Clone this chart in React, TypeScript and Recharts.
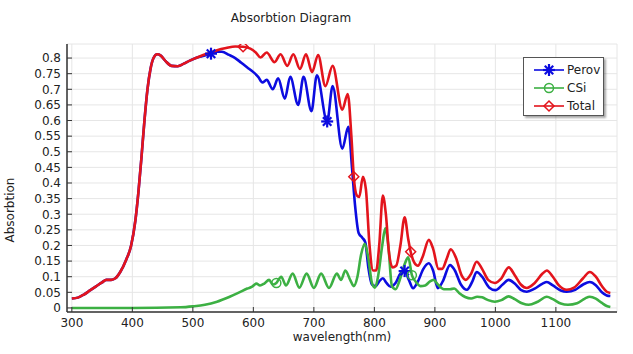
import { CartesianGrid, Line, LineChart, XAxis, YAxis } from "recharts";

// [wavelength nm, absorption]
const perovPoints: [number, number][] = [
  [300, 0.03], [310, 0.033], [320, 0.043], [330, 0.056], [340, 0.069], [350, 0.082],
  [357, 0.09], [365, 0.09], [372, 0.095], [380, 0.115], [390, 0.155], [398, 0.2],
  [405, 0.28], [410, 0.37], [415, 0.48], [420, 0.6], [425, 0.7], [430, 0.765],
  [435, 0.8], [441, 0.812], [447, 0.808], [455, 0.79], [465, 0.775], [475, 0.774],
  [485, 0.782], [495, 0.792], [505, 0.8], [515, 0.806], [530, 0.814], [540, 0.82],
  [548, 0.82], [560, 0.81], [570, 0.8], [580, 0.785], [590, 0.77], [600, 0.755],
  [608, 0.74], [615, 0.722], [622, 0.73], [632, 0.7], [641, 0.735], [652, 0.67],
  [661, 0.74], [674, 0.65], [683, 0.74], [696, 0.63], [705, 0.745], [722, 0.597],
  [731, 0.71], [747, 0.51], [757, 0.58], [763, 0.45], [768, 0.33], [774, 0.24],
  [780, 0.225], [785, 0.21], [790, 0.13], [796, 0.075], [802, 0.07], [808, 0.085],
  [814, 0.095], [820, 0.08], [827, 0.068], [835, 0.08], [843, 0.11], [850, 0.118],
  [857, 0.09], [864, 0.063], [872, 0.085], [881, 0.125], [890, 0.143], [897, 0.12],
  [905, 0.063], [913, 0.085], [925, 0.137], [933, 0.12], [943, 0.075], [953, 0.058],
  [962, 0.085], [969, 0.115], [978, 0.1], [990, 0.065], [1000, 0.057], [1012, 0.075],
  [1022, 0.09], [1032, 0.078], [1042, 0.058], [1052, 0.052], [1065, 0.062], [1078, 0.078],
  [1085, 0.083], [1095, 0.072], [1108, 0.056], [1118, 0.052], [1132, 0.058], [1145, 0.075],
  [1156, 0.083], [1166, 0.073], [1176, 0.05], [1184, 0.04], [1190, 0.038],
];

const csiPoints: [number, number][] = [
  [300, 0], [400, 0], [480, 0.002], [500, 0.005], [520, 0.01], [540, 0.02],
  [560, 0.035], [575, 0.048], [590, 0.062], [598, 0.068], [605, 0.078], [611, 0.072],
  [618, 0.078], [626, 0.09], [632, 0.075], [638, 0.08], [646, 0.1], [654, 0.072],
  [665, 0.11], [676, 0.065], [688, 0.11], [700, 0.064], [712, 0.11], [725, 0.064],
  [738, 0.11], [745, 0.09], [752, 0.12], [760, 0.09], [766, 0.07], [772, 0.1],
  [778, 0.17], [784, 0.205], [790, 0.16], [796, 0.08], [801, 0.065], [806, 0.1],
  [813, 0.2], [818, 0.255], [823, 0.2], [829, 0.07], [835, 0.06], [842, 0.09],
  [850, 0.14], [856, 0.162], [862, 0.105], [868, 0.085], [876, 0.07], [884, 0.072],
  [892, 0.085], [898, 0.09], [905, 0.075], [915, 0.06], [925, 0.06], [932, 0.062],
  [940, 0.048], [950, 0.035], [960, 0.03], [970, 0.036], [978, 0.034], [988, 0.025],
  [999, 0.02], [1010, 0.025], [1022, 0.037], [1032, 0.028], [1045, 0.014], [1055, 0.01],
  [1070, 0.02], [1085, 0.036], [1095, 0.028], [1108, 0.014], [1120, 0.01], [1135, 0.015],
  [1148, 0.03], [1156, 0.036], [1166, 0.03], [1176, 0.016], [1184, 0.006], [1190, 0.003],
];

const totalPoints: [number, number][] = [
  [300, 0.03], [310, 0.033], [320, 0.043], [330, 0.056], [340, 0.069], [350, 0.082],
  [357, 0.09], [365, 0.09], [372, 0.095], [380, 0.115], [390, 0.155], [398, 0.2],
  [405, 0.28], [410, 0.37], [415, 0.48], [420, 0.6], [425, 0.7], [430, 0.765],
  [435, 0.8], [441, 0.812], [447, 0.808], [455, 0.79], [465, 0.775], [475, 0.774],
  [485, 0.782], [495, 0.792], [505, 0.8], [515, 0.808], [525, 0.815], [540, 0.825],
  [555, 0.832], [570, 0.837], [583, 0.836], [595, 0.83], [604, 0.818], [612, 0.802],
  [622, 0.818], [635, 0.787], [645, 0.812], [656, 0.775], [666, 0.812], [677, 0.765],
  [687, 0.812], [697, 0.755], [707, 0.81], [719, 0.71], [731, 0.775], [747, 0.635],
  [756, 0.685], [762, 0.55], [766, 0.42], [771, 0.36], [775, 0.355], [781, 0.42],
  [786, 0.38], [792, 0.2], [798, 0.12], [803, 0.12], [808, 0.2], [814, 0.36],
  [819, 0.3], [824, 0.18], [830, 0.13], [836, 0.135], [843, 0.2], [850, 0.29],
  [856, 0.22], [860, 0.18], [866, 0.145], [872, 0.135], [880, 0.165], [890, 0.218],
  [897, 0.19], [906, 0.125], [912, 0.125], [920, 0.16], [926, 0.188], [935, 0.16],
  [944, 0.105], [951, 0.09], [960, 0.11], [969, 0.148], [978, 0.125], [988, 0.09],
  [999, 0.08], [1010, 0.095], [1022, 0.13], [1032, 0.105], [1042, 0.075], [1052, 0.064],
  [1065, 0.08], [1078, 0.11], [1085, 0.12], [1095, 0.1], [1105, 0.072], [1118, 0.058],
  [1130, 0.065], [1145, 0.095], [1156, 0.115], [1166, 0.1], [1176, 0.07], [1184, 0.052],
  [1190, 0.048],
];

// wavelengths where the marker symbols sit
const perovMarks = [530, 722, 850];
const csiMarks = [638, 862];
const totalMarks = [583, 766, 860];

const xTicks = [300, 400, 500, 600, 700, 800, 900, 1000, 1100];
const yTicks = [0, 0.05, 0.1, 0.15, 0.2, 0.25, 0.3, 0.35, 0.4, 0.45, 0.5, 0.55, 0.6, 0.65, 0.7, 0.75, 0.8];

const BLUE = "#0c0ce0";
const GREEN = "#3cb043";
const RED = "#e3141c";
const FONT = "'DejaVu Sans', sans-serif";
const TEXT = "#222";
const FRAME = "#333";
const TICK_LEN = 5;
const MARGIN = 6;

const toRows = (pts: [number, number][]) => pts.map(([nm, v]) => ({ nm, v }));

function Star({ cx, cy, color }: { cx: number; cy: number; color: string }) {
  const r = 6;
  const d = r * 0.707;
  return (
    <g stroke={color} strokeWidth={2.2}>
      <line x1={cx - r} y1={cy} x2={cx + r} y2={cy} />
      <line x1={cx} y1={cy - r} x2={cx} y2={cy + r} />
      <line x1={cx - d} y1={cy - d} x2={cx + d} y2={cy + d} />
      <line x1={cx - d} y1={cy + d} x2={cx + d} y2={cy - d} />
    </g>
  );
}

function Ring({ cx, cy, color }: { cx: number; cy: number; color: string }) {
  return <circle cx={cx} cy={cy} r={4.5} fill="none" stroke={color} strokeWidth={1.5} />;
}

function Diamond({ cx, cy, color }: { cx: number; cy: number; color: string }) {
  const s = 5;
  return (
    <path
      d={`M${cx},${cy - s}L${cx + s},${cy}L${cx},${cy + s}L${cx - s},${cy}Z`}
      fill="none"
      stroke={color}
      strokeWidth={1.5}
    />
  );
}

const markerDot =
  (marks: number[], Shape: typeof Star, color: string) =>
  (p: any) => {
    if (!marks.includes(p.payload.nm)) return <g key={p.key ?? p.index} />;
    return (
      <g key={p.key ?? p.index}>
        <Shape cx={p.cx} cy={p.cy} color={color} />
      </g>
    );
  };

function BottomTick(p: any) {
  const y0 = p.y - MARGIN;
  return (
    <g>
      <line x1={p.x} y1={y0} x2={p.x} y2={y0 - TICK_LEN} stroke={FRAME} />
      <text x={p.x} y={p.y} dy="0.71em" textAnchor="middle" fill={TEXT} fontSize={12} fontFamily={FONT}>
        {p.payload.value}
      </text>
    </g>
  );
}

function LeftTick(p: any) {
  const x0 = p.x + MARGIN;
  return (
    <g>
      <line x1={x0} y1={p.y} x2={x0 + TICK_LEN} y2={p.y} stroke={FRAME} />
      <text x={p.x} y={p.y} dy="0.36em" textAnchor="end" fill={TEXT} fontSize={12} fontFamily={FONT}>
        {p.payload.value}
      </text>
    </g>
  );
}

function TopTick(p: any) {
  const y0 = p.y + MARGIN;
  return <line x1={p.x} y1={y0} x2={p.x} y2={y0 + TICK_LEN} stroke={FRAME} />;
}

function RightTick(p: any) {
  const x0 = p.x - MARGIN;
  return <line x1={x0} y1={p.y} x2={x0 - TICK_LEN} y2={p.y} stroke={FRAME} />;
}

const legendItems = [
  { name: "Perov", color: BLUE, Shape: Star },
  { name: "CSi", color: GREEN, Shape: Ring },
  { name: "Total", color: RED, Shape: Diamond },
];

export default function App() {
  const xDomain = [292, 1201];
  const yDomain = [-0.013, 0.845];
  return (
    <div style={{ position: "absolute", left: 0, top: 0, width: 633, height: 354, background: "#fff", fontFamily: FONT }}>
      <LineChart width={633} height={354} margin={{ top: 44, right: 16, bottom: 0, left: 0 }}>
        <CartesianGrid stroke="#e6e6e6" />
        <XAxis
          dataKey="nm"
          type="number"
          domain={xDomain}
          ticks={xTicks}
          interval={0}
          allowDataOverflow
          height={42}
          tickSize={0}
          tickMargin={MARGIN}
          tick={BottomTick}
          axisLine={{ stroke: FRAME, strokeWidth: 1.5 }}
        />
        <XAxis
          xAxisId="top"
          orientation="top"
          type="number"
          domain={xDomain}
          ticks={xTicks}
          interval={0}
          allowDataOverflow
          height={0}
          tickSize={0}
          tickMargin={MARGIN}
          tick={TopTick}
          axisLine={{ stroke: FRAME, strokeWidth: 1.5 }}
        />
        <YAxis
          type="number"
          domain={yDomain}
          ticks={yTicks}
          interval={0}
          allowDataOverflow
          width={67}
          tickSize={0}
          tickMargin={MARGIN}
          tick={LeftTick}
          axisLine={{ stroke: FRAME, strokeWidth: 1.5 }}
        />
        <YAxis
          yAxisId="right"
          orientation="right"
          type="number"
          domain={yDomain}
          ticks={yTicks}
          interval={0}
          allowDataOverflow
          width={0}
          tickSize={0}
          tickMargin={MARGIN}
          tick={RightTick}
          axisLine={{ stroke: FRAME, strokeWidth: 1.5 }}
        />
        <Line
          data={toRows(perovPoints)}
          dataKey="v"
          type="monotone"
          stroke={BLUE}
          strokeWidth={2.6}
          dot={markerDot(perovMarks, Star, BLUE)}
          activeDot={false}
          isAnimationActive={false}
        />
        <Line
          data={toRows(csiPoints)}
          dataKey="v"
          type="monotone"
          stroke={GREEN}
          strokeWidth={2.6}
          dot={markerDot(csiMarks, Ring, GREEN)}
          activeDot={false}
          isAnimationActive={false}
        />
        <Line
          data={toRows(totalPoints)}
          dataKey="v"
          type="monotone"
          stroke={RED}
          strokeWidth={2.6}
          dot={markerDot(totalMarks, Diamond, RED)}
          activeDot={false}
          isAnimationActive={false}
        />
      </LineChart>

      <div style={{ position: "absolute", left: 0, top: 11, width: 582, textAlign: "center", fontSize: 12, color: TEXT }}>
        Absorbtion Diagram
      </div>
      <div style={{ position: "absolute", left: 67, top: 330, width: 550, textAlign: "center", fontSize: 12, color: TEXT }}>
        wavelength(nm)
      </div>
      <div
        style={{
          position: "absolute",
          left: 10,
          top: 210,
          transform: "translate(-50%, -50%) rotate(-90deg)",
          fontSize: 12,
          color: TEXT,
          whiteSpace: "nowrap",
        }}
      >
        Absorbtion
      </div>

      <div
        style={{
          position: "absolute",
          left: 523,
          top: 57,
          width: 81,
          height: 59,
          border: "1px solid #555",
          background: "#fff",
          boxShadow: "2px 2px 2px rgba(0,0,0,0.35)",
          boxSizing: "border-box",
          paddingTop: 3,
        }}
      >
        {legendItems.map(({ name, color, Shape }) => (
          <div key={name} style={{ display: "flex", alignItems: "center", height: 18 }}>
            <svg width={38} height={16} style={{ marginLeft: 4 }}>
              <line x1={6} y1={8} x2={36} y2={8} stroke={color} strokeWidth={1.6} />
              <Shape cx={21} cy={8} color={color} />
            </svg>
            <span style={{ fontSize: 12, color: TEXT, marginLeft: 1 }}>{name}</span>
          </div>
        ))}
      </div>
    </div>
  );
}
